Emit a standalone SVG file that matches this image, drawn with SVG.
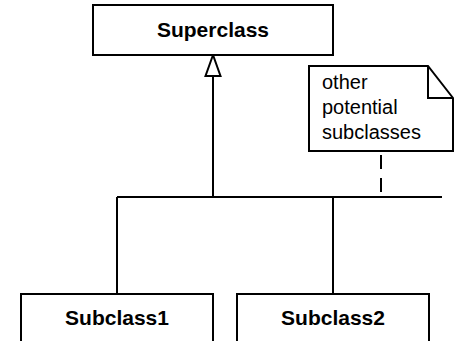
<svg xmlns="http://www.w3.org/2000/svg" width="458" height="341" viewBox="0 0 458 341">
<style>
.box{fill:#fff;stroke:#000;stroke-width:2}
.ln{fill:none;stroke:#000;stroke-width:2}
.t{font-family:"Liberation Sans",Arial,sans-serif;font-size:20px;fill:#000}
.b{font-weight:bold;font-size:21px;text-anchor:middle}
</style>
<rect width="458" height="341" fill="#fff"/>
<g id="connectors">
<path class="ln" d="M213,76 V197"/>
<path class="ln" d="M117,197 H442"/>
<path class="ln" d="M117,197 V294"/>
<path class="ln" d="M333,197 V294"/>
<polygon points="213,55 205.5,76 220.5,76" fill="#fff" stroke="#000" stroke-width="2"/>
<path class="ln" d="M381,155 V192" stroke-dasharray="14 9"/>
</g>
<g id="superclass">
<rect class="box" x="93" y="5" width="240" height="50"/>
<text class="t b" x="213" y="37">Superclass</text>
</g>
<g id="note">
<path class="box" d="M309,66 H428 L453,98 V151 H309 Z"/>
<path class="ln" d="M428,66 V98 H453"/>
<text class="t" x="322" y="89">other</text>
<text class="t" x="322" y="114">potential</text>
<text class="t" x="322" y="139">subclasses</text>
</g>
<g id="subclass1">
<rect class="box" x="21" y="294" width="192" height="60"/>
<text class="t b" x="117" y="325">Subclass1</text>
</g>
<g id="subclass2">
<rect class="box" x="237" y="294" width="192" height="60"/>
<text class="t b" x="333" y="325">Subclass2</text>
</g>
</svg>
